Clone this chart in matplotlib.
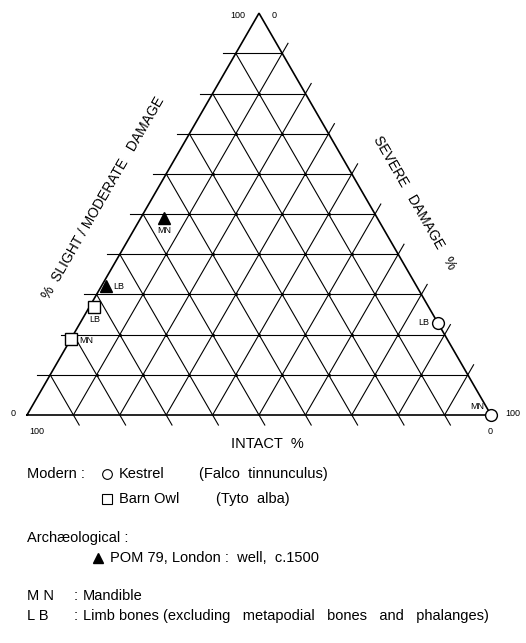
import numpy as np
import matplotlib.pyplot as plt

plt.rcParams['font.family'] = ['Liberation Sans', 'DejaVu Sans']

# Ternary values (%): intact, severe damage, slight/moderate damage
kestrel_parts = ['LB', 'MN']
kestrel_intact = [0, 0]
kestrel_severe = [77, 100]
kestrel_slight = [23, 0]

barn_owl_parts = ['LB', 'MN']
barn_owl_intact = [72, 81]
barn_owl_severe = [1, 0]
barn_owl_slight = [27, 19]

pom79_parts = ['MN', 'LB']
pom79_intact = [46, 67]
pom79_severe = [5, 1]
pom79_slight = [49, 32]

grid_steps = [10, 20, 30, 40, 50, 60, 70, 80, 90]

W, H = 526, 643


def to_xy(intact, severe, slight):
    # bottom-left = 100% intact, bottom-right = 100% severe, apex = 100% slight
    i = np.asarray(intact, dtype=float)
    v = np.asarray(severe, dtype=float)
    s = np.asarray(slight, dtype=float)
    tot = i + v + s
    return (v + s / 2) / tot, s * np.sqrt(3) / 2 / tot


def px(x, y):
    # pixel position (from top-left) -> figure fraction
    return x / W, 1 - y / H


fig = plt.figure(figsize=(W / 100, H / 100), dpi=100)
ax = fig.add_axes([0, 0, 1, 1])
ax.set_xlim(-27 / 464, (W - 27) / 464)
ax.set_ylim(-228 / 464, (H - 228) / 464)
ax.set_aspect('equal')
ax.axis('off')

ext = 0.025
c60, s60 = 0.5, np.sqrt(3) / 2
for t in grid_steps:
    # slight/moderate = t : horizontal lines, tick out to the left
    x0, y0 = to_xy(100 - t, 0, t)
    x1, y1 = to_xy(0, 100 - t, t)
    ax.plot([x0 - ext * 1.1, x1], [y0, y1], color='black', lw=0.8)
    # severe = t : parallel to left edge, tick out past right edge
    x0, y0 = to_xy(100 - t, t, 0)
    x1, y1 = to_xy(0, t, 100 - t)
    ax.plot([x0, x1 + ext * c60], [y0, y1 + ext * s60], color='black', lw=0.8)
    # intact = t : parallel to right edge, tick out below bottom
    x0, y0 = to_xy(t, 0, 100 - t)
    x1, y1 = to_xy(t, 100 - t, 0)
    ax.plot([x0, x1 + ext * c60], [y0, y1 - ext * s60], color='black', lw=0.8)

# small dots where the grid lines cross
node_i, node_v = np.meshgrid(grid_steps, grid_steps)
node_s = 100 - node_i - node_v
keep = node_s > 0
nx, ny = to_xy(node_i[keep], node_v[keep], node_s[keep])
ax.plot(nx, ny, 'o', color='black', ms=2.2, mew=0)

tx, ty = to_xy([100, 0, 0, 100], [0, 100, 0, 0], [0, 0, 100, 0])
ax.plot(tx, ty, color='black', lw=1.2, solid_joinstyle='miter')

# data points
kx, ky = to_xy(kestrel_intact, kestrel_severe, kestrel_slight)
ax.plot(kx, ky, 'o', ms=8.5, mfc='white', mec='black', mew=1.0, clip_on=False, zorder=5)
bx, by = to_xy(barn_owl_intact, barn_owl_severe, barn_owl_slight)
ax.plot(bx, by, 's', ms=8, mfc='white', mec='black', mew=1.0, zorder=5)
px_, py_ = to_xy(pom79_intact, pom79_severe, pom79_slight)
ax.plot(px_, py_, '^', ms=8.5, color='black', zorder=5)

lab = dict(fontsize=6.5, zorder=6)
ax.annotate(kestrel_parts[0], (kx[0], ky[0]), xytext=(-6, 0), textcoords='offset points',
            ha='right', va='center', **lab)
ax.annotate(kestrel_parts[1], (kx[1], ky[1]), xytext=(-5, 3), textcoords='offset points',
            ha='right', va='bottom', **lab)
ax.annotate(barn_owl_parts[0], (bx[0], by[0]), xytext=(0, -6), textcoords='offset points',
            ha='center', va='top', **lab)
ax.annotate(barn_owl_parts[1], (bx[1], by[1]), xytext=(6, -1), textcoords='offset points',
            ha='left', va='center', **lab)
ax.annotate(pom79_parts[0], (px_[0], py_[0]), xytext=(0, -6), textcoords='offset points',
            ha='center', va='top', **lab)
ax.annotate(pom79_parts[1], (px_[1], py_[1]), xytext=(5, 0), textcoords='offset points',
            ha='left', va='center', **lab)

# corner values
tick = dict(fontsize=6.5, ha='center', va='center')
fig.text(*px(238, 15), '100', **tick)
fig.text(*px(274, 15), '0', **tick)
fig.text(*px(13, 413), '0', **tick)
fig.text(*px(37, 432), '100', **tick)
fig.text(*px(513, 413), '100', **tick)
fig.text(*px(490, 432), '0', **tick)

# axis titles
fig.text(*px(103, 198), '%  SLIGHT / MODERATE   DAMAGE', fontsize=10, rotation=60,
         ha='center', va='center', rotation_mode='anchor')
fig.text(*px(414, 203), 'SEVERE   DAMAGE   %', fontsize=10, rotation=-60,
         ha='center', va='center', rotation_mode='anchor')
fig.text(*px(267, 444), 'INTACT  %', fontsize=10.5, ha='center', va='center')

# key
key = dict(fontsize=10.5, va='center')
mk = dict(transform=fig.transFigure, clip_on=False)
fig.text(*px(27, 474), 'Modern :', **key)
ax.plot(*px(107, 474), 'o', ms=7, mfc='white', mec='black', mew=0.8, **mk)
fig.text(*px(119, 474), 'Kestrel', **key)
fig.text(*px(199, 474), '(Falco  tinnunculus)', **key)
ax.plot(*px(107, 499), 's', ms=6.5, mfc='white', mec='black', mew=0.8, **mk)
fig.text(*px(119, 499), 'Barn Owl', **key)
fig.text(*px(216, 499), '(Tyto  alba)', **key)
fig.text(*px(27, 538), 'Archæological :', **key)
ax.plot(*px(98, 558), '^', ms=7, color='black', **mk)
fig.text(*px(110, 558), 'POM 79, London :  well,  c.1500', **key)
fig.text(*px(27, 596), 'M N', **key)
fig.text(*px(74, 596), ':', **key)
fig.text(*px(83, 596), 'Mandible', **key)
fig.text(*px(27, 616), 'L B', **key)
fig.text(*px(74, 616), ':', **key)
fig.text(*px(83, 616), 'Limb bones (excluding   metapodial   bones   and   phalanges)', **key)

fig.savefig('out.png', dpi=100)
